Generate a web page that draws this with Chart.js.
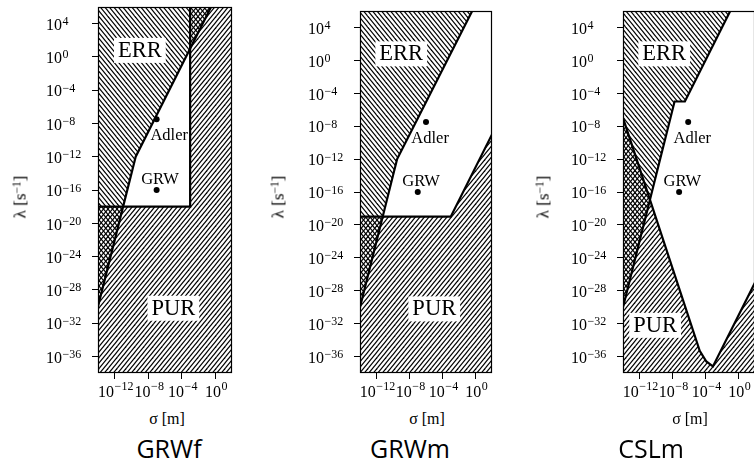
<!DOCTYPE html>
<html>
<head>
<meta charset="utf-8">
<script src="https://cdn.jsdelivr.net/npm/chart.js@4.4.1/dist/chart.umd.min.js"></script>
<style>
html, body { margin:0; padding:0; width:754px; height:462px; overflow:hidden; background:#fff; }
body { position:relative; }
canvas { position:absolute; top:0; }
.lbl { position:absolute; white-space:nowrap; color:#000; line-height:1; }
.serif { font-family:"Liberation Serif","DejaVu Serif",serif; }
.name { font-family:"Open Sans","DejaVu Sans",sans-serif; font-size:25px; transform:translateX(-50%); top:436px; }
.ytitle { transform:translate(-50%,-50%) rotate(-90deg); font-size:17px; top:197px; }
.xtitle { transform:translateX(-50%); font-size:16px; top:411px; }
sup { font-size:0.68em; vertical-align:0.45em; line-height:0; }
</style>
</head>
<body>
<canvas id="c1" width="250" height="400" style="left:0px"></canvas>
<canvas id="c2" width="250" height="400" style="left:260px"></canvas>
<canvas id="c3" width="300" height="400" style="left:500px"></canvas>

<div class="lbl serif ytitle" style="left:20px">λ [s<sup>−1</sup>]</div>
<div class="lbl serif ytitle" style="left:278px">λ [s<sup>−1</sup>]</div>
<div class="lbl serif ytitle" style="left:543px">λ [s<sup>−1</sup>]</div>
<div class="lbl serif xtitle" style="left:167px">σ [m]</div>
<div class="lbl serif xtitle" style="left:427px">σ [m]</div>
<div class="lbl serif xtitle" style="left:690px">σ [m]</div>
<div class="lbl name" id="n1" style="left:169px"></div>
<div class="lbl name" id="n2" style="left:410px"></div>
<div class="lbl name" id="n3" style="left:651px"></div>

<script>
// ---------- data (log10 values) ----------
const SIGMA_MIN = -14, SIGMA_MAX = 2, LAMBDA_MIN = -38, LAMBDA_MAX = 6;
const xTickValues = [-12, -8, -4, 0];
const yTickValues = [4, 0, -4, -8, -12, -16, -20, -24, -28, -32, -36];
const panelNames = ['GRWf', 'GRWm', 'CSLm'];
const regionNames = ['ERR', 'PUR'];
const pointNames = ['Adler', 'GRW'];

// GRWf
const grwfErrSigma  = [-14, -9.5, -0.5];
const grwfErrLambda = [-30, -12, 6];
const grwfPurSigma  = [-14, -3, -3];
const grwfPurLambda = [-18, -18, 6];
const grwfPointSigma  = [-7, -7];
const grwfPointLambda = [-7.5, -16];

// GRWm
const grwmErrSigma  = [-14, -9.5, -0.4];
const grwmErrLambda = [-30, -12, 6];
const grwmPurSigma  = [-14, -3, 2];
const grwmPurLambda = [-19, -19, -9];
const grwmPointSigma  = [-6, -7];
const grwmPointLambda = [-7.5, -16];

// CSLm
const cslmErrSigma  = [-14, -7.75, -6.5, -1];
const cslmErrLambda = [-30, -5, -5, 6];
const cslmPurSigma  = [-14, -4.7, -3.9, -3.1, 2];
const cslmPurLambda = [-7, -35.3, -36.6, -37.2, -27];
const cslmPointSigma  = [-6.1, -7.2];
const cslmPointLambda = [-7.5, -16];

// ---------- helpers ----------
function toPts(s, l) { return s.map((v, i) => ({ x: v, y: l[i] })); }
function errPolygon(s, l) {
  const p = toPts(s, l);
  p.push({ x: SIGMA_MIN, y: LAMBDA_MAX }, { x: s[0], y: l[0] });
  return p;
}
function purPolygon(s, l) {
  const p = toPts(s, l);
  if (l[l.length - 1] >= LAMBDA_MAX) p.push({ x: SIGMA_MAX, y: LAMBDA_MAX });
  p.push({ x: SIGMA_MAX, y: LAMBDA_MIN }, { x: SIGMA_MIN, y: LAMBDA_MIN }, { x: s[0], y: l[0] });
  return p;
}
function makeHatch(dir) {
  const w = 9, h = 11, step = 4.5;
  const c = document.createElement('canvas');
  c.width = w; c.height = h;
  const g = c.getContext('2d');
  g.strokeStyle = '#000'; g.lineWidth = 1.15;
  for (let k = -4; k <= 4; k++) {
    const x0 = k * step;
    g.beginPath();
    if (dir > 0) { g.moveTo(x0 - w, 2 * h); g.lineTo(x0 + 2 * w, -h); }
    else { g.moveTo(x0 - w, -h); g.lineTo(x0 + 2 * w, 2 * h); }
    g.stroke();
  }
  return g.createPattern(c, 'repeat');
}
const hatchBack = makeHatch(-1);  // '\' for ERR
const hatchFwd = makeHatch(1);    // '/' for PUR

const SERIF = '"Liberation Serif", "DejaVu Serif", serif';
function expText(v) { return v < 0 ? '\u2212' + (-v) : String(v); }

const decorPlugin = {
  id: 'panelDecor',
  afterDatasetsDraw(chart, args, opts) {
    const ctx = chart.ctx, xs = chart.scales.x, ys = chart.scales.y, a = chart.chartArea;
    ctx.save();
    ctx.textBaseline = 'alphabetic';
    ctx.font = '22.5px ' + SERIF;
    ctx.textAlign = 'center';
    opts.regionLabels.forEach(r => {
      const x = xs.getPixelForValue(r.sigma), y = ys.getPixelForValue(r.lambda);
      const w = ctx.measureText(r.text).width;
      ctx.fillStyle = '#fff';
      ctx.fillRect(x - w / 2 - 4, y - 19, w + 8, 25);
      ctx.fillStyle = '#000';
      ctx.fillText(r.text, x, y);
    });
    ctx.font = '16.5px ' + SERIF;
    opts.pointLabels.forEach(r => {
      ctx.fillText(r.text, xs.getPixelForValue(r.sigma), ys.getPixelForValue(r.lambda));
    });
    ctx.strokeStyle = '#000'; ctx.lineWidth = 1.2;
    ctx.strokeRect(a.left + 0.5, a.top + 0.5, a.right - a.left - 1, a.bottom - a.top - 1);
    const big = '16px ' + SERIF, small = '12px ' + SERIF;
    ctx.textAlign = 'left';
    ys.ticks.forEach(t => {
      const y = ys.getPixelForValue(t.value);
      const x0 = a.left - 52;
      ctx.font = big; const w10 = ctx.measureText('10').width;
      ctx.fillText('10', x0, y + 6.3);
      ctx.font = small; ctx.fillText(expText(t.value), x0 + w10 + 0.5, y + 1.5);
    });
    xs.ticks.forEach(t => {
      const x = xs.getPixelForValue(t.value);
      ctx.font = big; const w10 = ctx.measureText('10').width;
      ctx.font = small; const we = ctx.measureText(expText(t.value)).width;
      const start = x + 1 - (w10 + we + 0.5) / 2;
      ctx.font = big; ctx.fillText('10', start, a.bottom + 24);
      ctx.font = small; ctx.fillText(expText(t.value), start + w10 + 0.5, a.bottom + 17);
    });
    ctx.restore();
  }
};

function makePanel(cfg) {
  const datasets = [
    { data: errPolygon(cfg.errS, cfg.errL), fill: 'shape', backgroundColor: hatchBack,
      borderWidth: 0, borderColor: 'rgba(0,0,0,0)', pointRadius: 0, order: 5 },
    { data: purPolygon(cfg.purS, cfg.purL), fill: 'shape', backgroundColor: hatchFwd,
      borderWidth: 0, borderColor: 'rgba(0,0,0,0)', pointRadius: 0, order: 4 },
    { data: toPts(cfg.errS, cfg.errL), fill: false, borderColor: '#000', borderWidth: 2.2,
      pointRadius: 0, tension: 0, order: 2 },
    { data: toPts(cfg.purS, cfg.purL), fill: false, borderColor: '#000', borderWidth: 2.2,
      pointRadius: 0, tension: 0, order: 2 },
    { data: toPts(cfg.ptS, cfg.ptL), showLine: false, pointRadius: 3, pointBorderWidth: 0,
      pointBackgroundColor: '#000', order: 1 }
  ];
  new Chart(document.getElementById(cfg.canvas), {
    type: 'line',
    data: { datasets },
    options: {
      responsive: false, animation: false, devicePixelRatio: 1,
      events: [],
      layout: { padding: { left: 0, right: cfg.padRight, top: cfg.padTop, bottom: 0 } },
      plugins: {
        legend: { display: false }, tooltip: { enabled: false },
        panelDecor: {
          regionLabels: [
            { text: regionNames[0], sigma: cfg.errLab[0], lambda: cfg.errLab[1] },
            { text: regionNames[1], sigma: cfg.purLab[0], lambda: cfg.purLab[1] }
          ],
          pointLabels: [
            { text: pointNames[0], sigma: cfg.adlerLab[0], lambda: cfg.adlerLab[1] },
            { text: pointNames[1], sigma: cfg.grwLab[0], lambda: cfg.grwLab[1] }
          ]
        }
      },
      scales: {
        x: {
          type: 'linear', min: SIGMA_MIN, max: SIGMA_MAX,
          afterBuildTicks: s => { s.ticks = xTickValues.map(v => ({ value: v })); },
          afterFit: s => { s.height = cfg.xAxisH; },
          ticks: { display: false },
          grid: { drawOnChartArea: false, drawTicks: true, tickLength: 6, color: '#000', lineWidth: 1 },
          border: { display: false }
        },
        y: {
          type: 'linear', min: LAMBDA_MIN, max: LAMBDA_MAX,
          afterBuildTicks: s => { s.ticks = yTickValues.map(v => ({ value: v })); },
          afterFit: s => { s.width = cfg.yAxisW; },
          ticks: { display: false },
          grid: { drawOnChartArea: false, drawTicks: true, tickLength: 6, color: '#000', lineWidth: 1 },
          border: { display: false }
        }
      }
    },
    plugins: [decorPlugin]
  });
}

makePanel({ canvas: 'c1', padTop: 7, padRight: 18, yAxisW: 98, xAxisH: 27,
  errS: grwfErrSigma, errL: grwfErrLambda, purS: grwfPurSigma, purL: grwfPurLambda,
  ptS: grwfPointSigma, ptL: grwfPointLambda,
  errLab: [-9, 0], purLab: [-5, -31], adlerLab: [-5.5, -10], grwLab: [-6.6, -15.3] });
makePanel({ canvas: 'c2', padTop: 11, padRight: 18, yAxisW: 100, xAxisH: 27,
  errS: grwmErrSigma, errL: grwmErrLambda, purS: grwmPurSigma, purL: grwmPurLambda,
  ptS: grwmPointSigma, ptL: grwmPointLambda,
  errLab: [-9, 0], purLab: [-5, -31], adlerLab: [-5.5, -10], grwLab: [-6.6, -15.3] });
makePanel({ canvas: 'c3', padTop: 11, padRight: 45, yAxisW: 123, xAxisH: 27,
  errS: cslmErrSigma, errL: cslmErrLambda, purS: cslmPurSigma, purL: cslmPurLambda,
  ptS: cslmPointSigma, ptL: cslmPointLambda,
  errLab: [-9, 0], purLab: [-10.1, -33], adlerLab: [-5.6, -10], grwLab: [-6.8, -15.3] });

document.getElementById('n1').textContent = panelNames[0];
document.getElementById('n2').textContent = panelNames[1];
document.getElementById('n3').textContent = panelNames[2];
</script>
</body>
</html>
